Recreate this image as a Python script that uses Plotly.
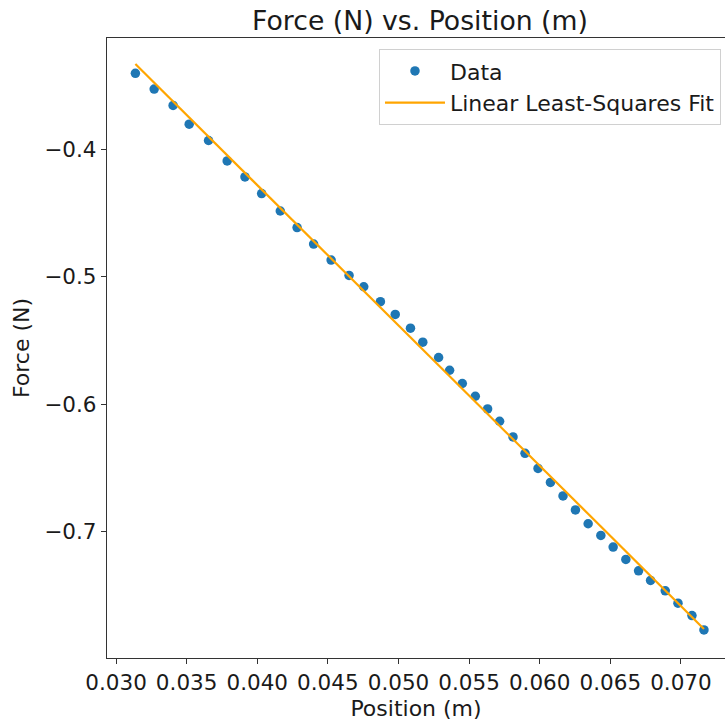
import plotly.graph_objects as go

# Data
position_m = [
    0.03137, 0.03270, 0.03404, 0.03518, 0.03655, 0.03787, 0.03913, 0.04031,
    0.04163, 0.04282, 0.04399, 0.04523, 0.04650, 0.04754, 0.04872, 0.04977,
    0.05085, 0.05172, 0.05284, 0.05362, 0.05452, 0.05544, 0.05631, 0.05716,
    0.05811, 0.05896, 0.05988, 0.06076, 0.06165, 0.06253, 0.06343, 0.06433,
    0.06520, 0.06610, 0.06700, 0.06785, 0.06889, 0.06979, 0.07078, 0.07163,
]
force_n = [
    -0.3405, -0.3529, -0.3657, -0.3804, -0.3932, -0.4092, -0.4218, -0.4348,
    -0.4485, -0.4615, -0.4744, -0.4870, -0.4990, -0.5079, -0.5196, -0.5296,
    -0.5404, -0.5514, -0.5634, -0.5734, -0.5838, -0.5938, -0.6037, -0.6134,
    -0.6257, -0.6386, -0.6504, -0.6614, -0.6720, -0.6830, -0.6938, -0.7030,
    -0.7121, -0.7218, -0.7307, -0.7383, -0.7464, -0.7561, -0.7658, -0.7771,
]
fit_x = [0.03137, 0.07163]
fit_y = [-0.3332, -0.7763]

x_ticks = [0.030, 0.035, 0.040, 0.045, 0.050, 0.055, 0.060, 0.065, 0.070]
y_ticks = [-0.4, -0.5, -0.6, -0.7]

FONT = "DejaVu Sans"
TXT = "#1a1a1a"

fig = go.Figure()
fig.add_trace(go.Scatter(
    x=position_m, y=force_n, mode="markers", name="Data",
    marker=dict(color="#1f77b4", size=9.5, line=dict(width=0)),
))
fig.add_trace(go.Scatter(
    x=fit_x, y=fit_y, mode="lines", name="Linear Least-Squares Fit",
    line=dict(color="#FFA500", width=2.2),
))

fig.update_layout(
    width=725, height=723,
    margin=dict(l=107, r=0, t=38, b=65),
    paper_bgcolor="white", plot_bgcolor="white",
    font=dict(family=FONT, size=22, color=TXT),
    title=dict(
        text="Force (N) vs. Position (m)",
        font=dict(family=FONT, size=26.7, color=TXT),
        xref="paper", x=0.5065, xanchor="center",
        yref="container", y=1 - 21 / 723, yanchor="middle",
    ),
    showlegend=True,
    legend=dict(
        x=0.9935, xanchor="right", y=0.982, yanchor="top",
        bgcolor="rgba(255,255,255,0.8)", bordercolor="#d0d0d0", borderwidth=1,
        font=dict(family=FONT, size=22, color=TXT),
        itemwidth=60,
    ),
)

fig.update_xaxes(
    range=[0.02936, 0.07312],
    tickvals=x_ticks, tickformat=".3f",
    showgrid=False, zeroline=False,
    showline=True, linecolor="#333333", linewidth=1.3, mirror=True,
    ticks="outside", ticklen=5, tickwidth=1.3, tickcolor="#333333",
    tickfont=dict(family=FONT, size=21.5, color=TXT),
    title=dict(text="Position (m)", font=dict(family=FONT, size=22, color=TXT), standoff=6),
)
fig.update_yaxes(
    range=[-0.7991, -0.3128],
    tickvals=y_ticks, tickformat=".1f",
    showgrid=False, zeroline=False,
    showline=True, linecolor="#333333", linewidth=1.3, mirror=False,
    ticks="outside", ticklen=5, tickwidth=1.3, tickcolor="#333333",
    tickfont=dict(family=FONT, size=21.5, color=TXT),
    title=dict(text="Force (N)", font=dict(family=FONT, size=22, color=TXT), standoff=8),
)

fig.write_html("out.html")
